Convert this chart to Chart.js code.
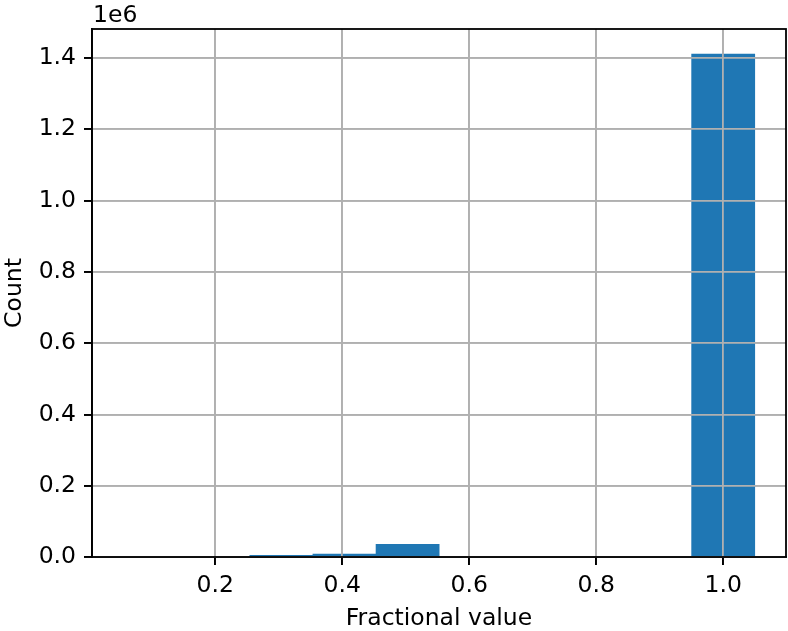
<!DOCTYPE html>
<html lang="en">
<head>
    <meta charset="UTF-8">
    <title>Fractional value histogram</title>
    <script src="https://cdn.jsdelivr.net/npm/chart.js"></script>
    <style>
        body { margin: 0; background: #fff; }
    </style>
</head>
<body>
<canvas id="histChart" width="788" height="631"></canvas>

<script>
    // histogram bins (centres) and counts
    const binCenters = [0.1053, 0.2047, 0.3041, 0.4035, 0.5029, 0.6023, 0.7017, 0.8011, 0.9005, 0.9999];
    const counts = [0, 0, 4500, 8500, 35600, 0, 0, 0, 0, 1411000];
    const xTicks = [0.2, 0.4, 0.6, 0.8, 1.0];
    const yTicks = [0, 200000, 400000, 600000, 800000, 1000000, 1200000, 1400000];

    const font = { family: 'DejaVu Sans', size: 23.5 };

    // matplotlib draws grid over the bars, plus a full frame and the offset text
    const overlay = {
        id: 'overlay',
        afterDatasetsDraw(chart) {
            const ctx = chart.ctx;
            const a = chart.chartArea;
            chart.scales.x.drawGrid(a);
            chart.scales.y.drawGrid(a);
            ctx.save();
            ctx.strokeStyle = '#000';
            ctx.lineWidth = 1.8;
            ctx.strokeRect(a.left, a.top, a.right - a.left, a.bottom - a.top);
            ctx.fillStyle = '#000';
            ctx.font = '23.5px "DejaVu Sans"';
            ctx.textBaseline = 'alphabetic';
            ctx.fillText('1e6', a.left + 1, 22);
            ctx.restore();
        }
    };

    new Chart(document.getElementById('histChart'), {
        type: 'bar',
        data: {
            datasets: [{
                data: binCenters.map((x, i) => ({ x: x, y: counts[i] })),
                backgroundColor: '#1f77b4',
                borderWidth: 0,
                barPercentage: 1,
                categoryPercentage: 1
            }]
        },
        options: {
            responsive: false,
            animation: false,
            layout: { padding: { left: 0, right: 2, top: 29, bottom: 0 } },
            plugins: { legend: { display: false }, tooltip: { enabled: false } },
            scales: {
                x: {
                    type: 'linear',
                    offset: false,
                    min: 0.0059,
                    max: 1.0988,
                    afterBuildTicks: s => { s.ticks = xTicks.map(v => ({ value: v })); },
                    afterFit: s => { s.height = 74; },
                    ticks: {
                        color: '#000', font: font, padding: 7,
                        maxRotation: 0, autoSkip: false,
                        callback: v => v.toFixed(1)
                    },
                    grid: { offset: false, color: '#b0b0b0', lineWidth: 1.8, tickColor: '#000', tickWidth: 1.8, tickLength: 8 },
                    border: { color: '#000', width: 1.8 },
                    title: { display: true, text: 'Fractional value', color: '#000', font: font, padding: { top: 0, bottom: -2 } }
                },
                y: {
                    min: 0,
                    max: 1481550,
                    afterBuildTicks: s => { s.ticks = yTicks.map(v => ({ value: v })); },
                    afterFit: s => { s.width = 92; },
                    ticks: {
                        color: '#000', font: font, padding: 8,
                        callback: v => (v / 1e6).toFixed(1)
                    },
                    grid: { color: '#b0b0b0', lineWidth: 1.8, tickColor: '#000', tickWidth: 1.8, tickLength: 8 },
                    border: { color: '#000', width: 1.8 },
                    title: { display: true, text: 'Count', color: '#000', font: font, padding: { top: 1, bottom: 0 } }
                }
            }
        },
        plugins: [overlay]
    });
</script>
</body>
</html>
